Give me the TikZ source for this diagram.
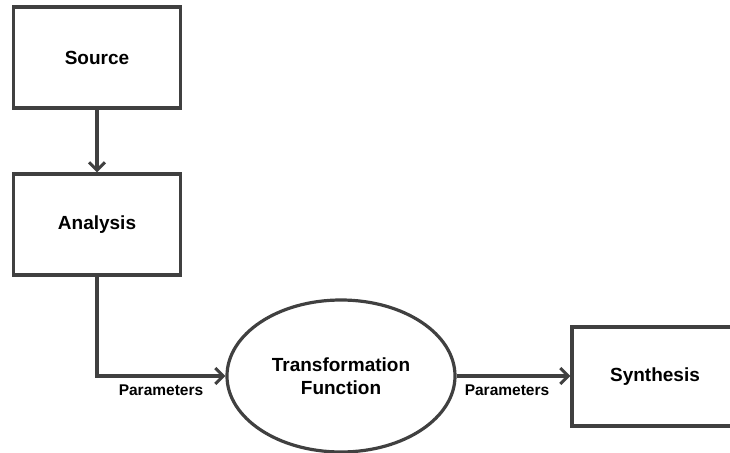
\documentclass[tikz,border=0pt]{standalone}
\usepackage{fontspec}
\setmainfont{Liberation Sans}
\usetikzlibrary{arrows.meta,shapes.geometric}
\definecolor{edge}{HTML}{404040}
\tikzset{
  blk/.style={draw=edge, line width=3.2pt, rectangle, minimum width=167pt, minimum height=101pt, inner sep=0pt, font=\fontsize{19}{21}\selectfont\bfseries},
  oval/.style={draw=edge, line width=3.2pt, ellipse, minimum width=228pt, minimum height=152pt, inner sep=0pt, font=\fontsize{19}{23}\selectfont\bfseries, align=center},
  flow/.style={draw=edge, line width=3.2pt, -{Straight Barb[length=8pt,width=16pt,line width=3pt]}},
  lbl/.style={font=\fontsize{15.5}{17}\selectfont\bfseries, inner sep=0pt}
}
\begin{document}
\begin{tikzpicture}[x=1pt,y=-1pt]
\useasboundingbox (0,0) rectangle (730,452);
\clip (0,0) rectangle (730,452);
\node[blk] (src) at (97,57.5) {Source};
\node[blk] (ana) at (97,224.5) {Analysis};
\node[oval] (tf) at (341,376) {Transformation\\Function};
\node[blk, minimum width=166pt, minimum height=99pt] (syn) at (655,376.5) {Synthesis};
\draw[flow] (src) -- (ana);
\draw[flow] (ana.south) |- (tf.west);
\draw[flow] (tf.east) -- (syn.west |- tf.east);
\node[lbl] (p1) at (161,390) {Parameters};
\node[lbl] (p2) at (507,390) {Parameters};
\end{tikzpicture}
\end{document}
